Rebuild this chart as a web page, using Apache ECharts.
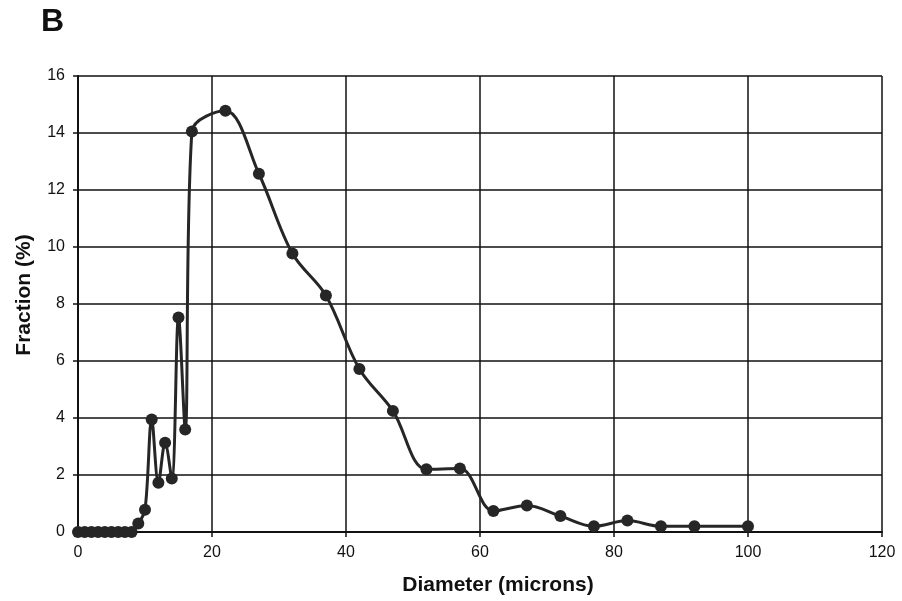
<!DOCTYPE html>
<html><head><meta charset="utf-8">
<script src="https://cdn.jsdelivr.net/npm/echarts@6/dist/echarts.min.js"></script>
<style>html,body{margin:0;padding:0;background:#fff}#c{width:902px;height:601px}</style>
</head><body><div id="c"></div>
<script>
var diameters = [0,1,2,3,4,5,6,7,8,9,10,11,12,13,14,15,16,17,22,27,32,37,42,47,52,57,62,67,72,77,82,87,92,100];
var fractions = [0,0,0,0,0,0,0,0,0,0.3,0.78,3.95,1.73,3.13,1.88,7.53,3.6,14.05,14.78,12.57,9.77,8.3,5.72,4.25,2.2,2.23,0.74,0.93,0.56,0.2,0.4,0.2,0.2,0.2];
var xTicks = [0,20,40,60,80,100,120];
var yTicks = [0,2,4,6,8,10,12,14,16];

var chart = echarts.init(document.getElementById('c'));
var data = diameters.map(function(d,i){return [d, fractions[i]];});
var font = 'Liberation Sans, Arial, sans-serif';
chart.setOption({
  animation:false,
  title:{text:'B', left:36, top:1, textStyle:{fontFamily:font, fontWeight:'bold', fontSize:32, color:'#111'}},
  grid:{left:78, right:20, top:76, bottom:68},
  xAxis:{type:'value', min:xTicks[0], max:xTicks[xTicks.length-1], interval:20,
    name:'Diameter (microns)', nameLocation:'middle', nameGap:43,
    nameTextStyle:{fontFamily:font, fontWeight:'bold', fontSize:21, color:'#111', padding:[0,0,0,36]},
    axisLine:{lineStyle:{color:'#111', width:2}},
    axisTick:{show:true, length:5, lineStyle:{color:'#111', width:1.5}},
    axisLabel:{fontFamily:font, fontSize:16, color:'#111', margin:13},
    splitLine:{show:true, lineStyle:{color:'#111', width:1.5}}},
  yAxis:{type:'value', min:yTicks[0], max:yTicks[yTicks.length-1], interval:2,
    name:'Fraction (%)', nameLocation:'middle', nameGap:43,
    nameTextStyle:{fontFamily:font, fontWeight:'bold', fontSize:21, color:'#111', padding:[0,0,0,18]},
    axisLine:{show:true, lineStyle:{color:'#111', width:2}},
    axisTick:{show:true, length:5, lineStyle:{color:'#111', width:1.5}},
    axisLabel:{fontFamily:font, fontSize:16, color:'#111', margin:13},
    splitLine:{show:true, lineStyle:{color:'#111', width:1.5}}},
  series:[{type:'line', data:data, smooth:0.35,
    symbol:'circle', symbolSize:12,
    itemStyle:{color:'#262626'},
    lineStyle:{color:'#262626', width:3}}]
});
</script></body></html>
